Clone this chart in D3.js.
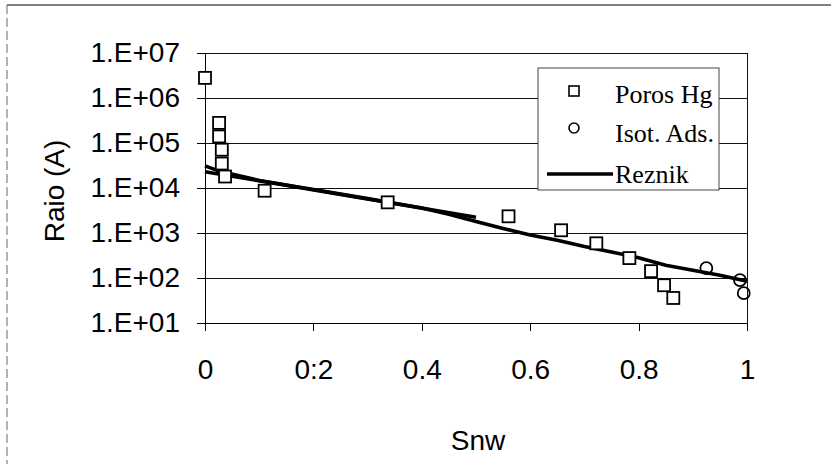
<!DOCTYPE html>
<html>
<head>
<meta charset="utf-8">
<script src="https://cdnjs.cloudflare.com/ajax/libs/d3/7.8.5/d3.min.js"></script>
<style>
  body { margin: 0; background: #fff; }
  .axis text { font-family: "Liberation Sans", Arial, sans-serif; font-size: 28px; fill: #000; }
  .axis path, .axis line { stroke: #000; stroke-width: 1; shape-rendering: crispEdges; }
</style>
</head>
<body>
<div id="chart"></div>
<script>
'use strict';

// data
var porosX = [0, 0.026, 0.026, 0.031, 0.031, 0.037, 0.11, 0.337, 0.56, 0.657, 0.722, 0.783, 0.823, 0.847, 0.864];
var porosY = [2.8e6, 2.8e5, 1.4e5, 7.1e4, 3.5e4, 1.8e4, 8.7e3, 4.8e3, 2.35e3, 1.15e3, 590, 277, 142, 69, 36];

var isotX = [0.925, 0.987, 0.994];
var isotY = [166, 90, 46];

var reznikX = [0, 0.025, 0.1, 0.2, 0.3, 0.4, 0.45, 0.5, 0.55, 0.6, 0.65, 0.7, 0.75, 0.8, 0.85, 0.9, 0.95, 1];
var reznikY = [3.1e4, 2.4e4, 1.47e4, 9.3e3, 5.8e3, 3.6e3, 2.6e3, 1.8e3, 1.26e3, 900, 690, 500, 380, 283, 192, 148, 115, 85];

var reznik2X = [0, 0.5];
var reznik2Y = [2.3e4, 2.25e3];

var xTicks = [0, 0.2, 0.4, 0.6, 0.8, 1];
var xTickLabels = ['0', '0:2', '0.4', '0.6', '0.8', '1'];
var yTicks = [1e1, 1e2, 1e3, 1e4, 1e5, 1e6, 1e7];
var yTickLabels = ['1.E+01', '1.E+02', '1.E+03', '1.E+04', '1.E+05', '1.E+06', '1.E+07'];

var legendLabels = ['Poros Hg', 'Isot. Ads.', 'Reznik'];

var chartWidth = 831, chartHeight = 464;
var plotLeft = 205, plotRight = 747, plotTop = 53, plotBottom = 323;

var svg = d3.select('#chart')
            .append('svg')
            .attr('width', chartWidth)
            .attr('height', chartHeight);

svg.append('rect')
   .attr('width', chartWidth)
   .attr('height', chartHeight)
   .attr('fill', '#fff');

// outer frame (top and dashed left edge)
svg.append('line')
   .attr('x1', 7).attr('x2', chartWidth)
   .attr('y1', 5).attr('y2', 5)
   .attr('stroke', '#555')
   .attr('stroke-width', 1.5);

svg.append('line')
   .attr('x1', 7).attr('x2', 7)
   .attr('y1', 5).attr('y2', chartHeight)
   .attr('stroke', '#666')
   .attr('stroke-width', 1)
   .attr('stroke-dasharray', '9 4');

var x = d3.scaleLinear().domain([0, 1]).range([plotLeft, plotRight]);
var y = d3.scaleLog().domain([10, 1e7]).range([plotBottom, plotTop]);

// gridlines
svg.append('g')
   .selectAll('line')
   .data(yTicks)
   .enter()
   .append('line')
   .attr('x1', plotLeft).attr('x2', plotRight)
   .attr('y1', function(d) { return y(d); })
   .attr('y2', function(d) { return y(d); })
   .attr('stroke', '#111')
   .attr('stroke-width', 1)
   .attr('shape-rendering', 'crispEdges');

// right border
svg.append('line')
   .attr('x1', plotRight).attr('x2', plotRight)
   .attr('y1', plotTop).attr('y2', plotBottom)
   .attr('stroke', '#111')
   .attr('stroke-width', 1)
   .attr('shape-rendering', 'crispEdges');

// axes
svg.append('g')
   .attr('class', 'axis')
   .attr('transform', 'translate(' + plotLeft + ',0)')
   .call(d3.axisLeft(y)
           .tickValues(yTicks)
           .tickFormat(function(d, i) { return yTickLabels[i]; })
           .tickSize(8)
           .tickPadding(17)
           .tickSizeOuter(0));

svg.append('g')
   .attr('class', 'axis')
   .attr('transform', 'translate(0,' + plotBottom + ')')
   .call(d3.axisBottom(x)
           .tickValues(xTicks)
           .tickFormat(function(d, i) { return xTickLabels[i]; })
           .tickSize(8)
           .tickPadding(28)
           .tickSizeOuter(0));

// axis titles
svg.append('text')
   .attr('x', 478)
   .attr('y', 450)
   .attr('text-anchor', 'middle')
   .style('font-family', '"Liberation Sans", Arial, sans-serif')
   .style('font-size', '28px')
   .text('Snw');

svg.append('text')
   .attr('transform', 'translate(64,191) rotate(-90)')
   .attr('text-anchor', 'middle')
   .style('font-family', '"Liberation Sans", Arial, sans-serif')
   .style('font-size', '28px')
   .text('Raio (A)');

// Reznik lines
var line = d3.line()
             .x(function(d) { return x(d[0]); })
             .y(function(d) { return y(d[1]); });

svg.append('path')
   .datum(d3.zip(reznikX, reznikY))
   .attr('d', line)
   .attr('fill', 'none')
   .attr('stroke', '#000')
   .attr('stroke-width', 3.6);

svg.append('path')
   .datum(d3.zip(reznik2X, reznik2Y))
   .attr('d', line)
   .attr('fill', 'none')
   .attr('stroke', '#000')
   .attr('stroke-width', 3.6);

// Poros Hg squares
var sq = 12;
svg.append('g')
   .selectAll('rect')
   .data(d3.zip(porosX, porosY))
   .enter()
   .append('rect')
   .attr('x', function(d) { return x(d[0]) - sq / 2; })
   .attr('y', function(d) { return y(d[1]) - sq / 2; })
   .attr('width', sq)
   .attr('height', sq)
   .attr('fill', '#fff')
   .attr('stroke', '#000')
   .attr('stroke-width', 1.8);

// Isot. Ads. circles
svg.append('g')
   .selectAll('circle')
   .data(d3.zip(isotX, isotY))
   .enter()
   .append('circle')
   .attr('cx', function(d) { return x(d[0]); })
   .attr('cy', function(d) { return y(d[1]); })
   .attr('r', 6)
   .attr('fill', 'none')
   .attr('stroke', '#000')
   .attr('stroke-width', 1.8);

// legend
var legend = svg.append('g');

legend.append('rect')
      .attr('x', 538).attr('y', 68)
      .attr('width', 181).attr('height', 122)
      .attr('fill', '#fff')
      .attr('stroke', '#444')
      .attr('stroke-width', 1);

legend.append('rect')
      .attr('x', 569).attr('y', 86)
      .attr('width', 10).attr('height', 10)
      .attr('fill', '#fff')
      .attr('stroke', '#000')
      .attr('stroke-width', 1.6);

legend.append('circle')
      .attr('cx', 574).attr('cy', 128)
      .attr('r', 5)
      .attr('fill', 'none')
      .attr('stroke', '#000')
      .attr('stroke-width', 1.6);

legend.append('line')
      .attr('x1', 547).attr('x2', 613)
      .attr('y1', 174).attr('y2', 174)
      .attr('stroke', '#000')
      .attr('stroke-width', 3.6);

legend.selectAll('text')
      .data(legendLabels)
      .enter()
      .append('text')
      .attr('x', 615)
      .attr('y', function(d, i) { return [103, 142, 183][i]; })
      .style('font-family', '"Liberation Serif", "Times New Roman", serif')
      .style('font-size', '26px')
      .text(function(d) { return d; });
</script>
</body>
</html>
